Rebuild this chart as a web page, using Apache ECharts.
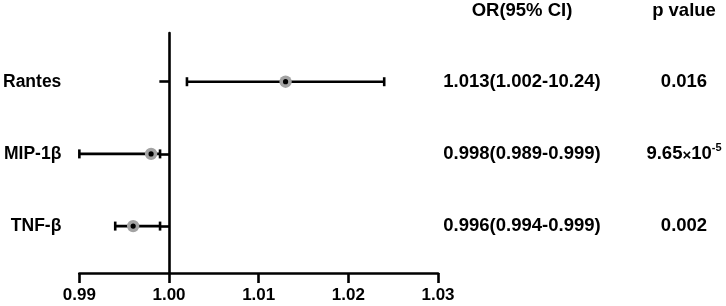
<!DOCTYPE html>
<html>
<head>
<meta charset="utf-8">
<script src="https://cdn.jsdelivr.net/npm/echarts@6/dist/echarts.min.js"></script>
<style>
  html, body { margin: 0; padding: 0; background: #fff; }
  #chart { width: 726px; height: 306px; }
</style>
</head>
<body>
<div id="chart"></div>
<script>
// forest plot: OR with 95% CI per cytokine, rows bottom -> top
const categories = ["TNF-β", "MIP-1β", "Rantes"];
const rowPos = [1, 2, 3];
const orValues = [0.996, 0.998, 1.013];
const ciLow = [0.994, 0.989, 1.002];
const ciHigh = [0.999, 0.999, 1.024];
const orLabels = ["0.996(0.994-0.999)", "0.998(0.989-0.999)", "1.013(1.002-10.24)"];
const pLabels = ["0.002", "9.65×10^-5", "0.016"];
const xTicks = [0.99, 1.00, 1.01, 1.02, 1.03];

const X_MIN = 0.99, X_MAX = 1.03;
const FONT = "'Liberation Sans', Arial, sans-serif";
const LW = 2.6;

const chart = echarts.init(document.getElementById("chart"));

const rowLabel = (list) => (v) => {
  const i = rowPos.indexOf(v);
  return i < 0 ? "" : list[i];
};

function renderBar(params, api) {
  const lo = api.coord([Math.max(api.value(1), X_MIN), api.value(3)]);
  const hi = api.coord([api.value(2), api.value(3)]);
  const mid = api.coord([api.value(0), api.value(3)]);
  const cap = 4.5;
  const line = (x1, y1, x2, y2) => ({
    type: "line",
    shape: { x1, y1, x2, y2 },
    style: { stroke: "#000", lineWidth: LW },
  });
  return {
    type: "group",
    children: [
      line(lo[0], lo[1], hi[0], hi[1]),
      line(lo[0], lo[1] - cap, lo[0], lo[1] + cap),
      line(hi[0], hi[1] - cap, hi[0], hi[1] + cap),
      { type: "circle", shape: { cx: mid[0], cy: mid[1], r: 6.2 }, style: { fill: "#a3a3a3" } },
      { type: "circle", shape: { cx: mid[0], cy: mid[1], r: 2.6 }, style: { fill: "#000" } },
    ],
  };
}

const textAxis = (name, labels, offset, rich) => ({
  type: "value",
  position: "right",
  offset,
  min: 0.35,
  max: 3.675,
  name,
  nameLocation: "end",
  nameGap: 13,
  nameTextStyle: { color: "#000", fontFamily: FONT, fontWeight: "bold", fontSize: 18.5 },
  axisLine: { show: false },
  axisTick: { show: false },
  splitLine: { show: false },
  axisLabel: {
    customValues: rowPos,
    formatter: rowLabel(labels),
    align: "center",
    margin: 0,
    color: "#000",
    fontFamily: FONT,
    fontWeight: "bold",
    fontSize: 18.5,
    rich,
  },
});

const sci = {
  x: { fontFamily: FONT, fontSize: 15, color: "#000", padding: [4, 0, 0, 0] },
  sup: { fontFamily: FONT, fontWeight: "bold", fontSize: 11, color: "#000", padding: [0, 0, 12, 0] },
};

chart.setOption({
  animation: false,
  grid: { left: 78, right: 288, top: 33, bottom: 33 },
  xAxis: {
    type: "value",
    min: X_MIN,
    max: X_MAX,
    interval: 0.01,
    axisLine: { lineStyle: { color: "#000", width: LW } },
    axisTick: { length: 10, lineStyle: { color: "#000", width: LW } },
    splitLine: { show: false },
    axisLabel: {
      customValues: xTicks,
      formatter: (v) => v.toFixed(2),
      margin: 14,
      color: "#000",
      fontFamily: FONT,
      fontWeight: "bold",
      fontSize: 17,
    },
  },
  yAxis: [
    {
      type: "value",
      min: 0.35,
      max: 3.675,
      offset: -90, // line sits at OR = 1.00
      axisLine: { show: true, lineStyle: { color: "#000", width: LW } },
      axisTick: { customValues: rowPos, length: 10, lineStyle: { color: "#000", width: LW } },
      splitLine: { show: false },
      axisLabel: {
        customValues: rowPos,
        formatter: rowLabel(categories),
        margin: 108,
        color: "#000",
        fontFamily: FONT,
        fontWeight: "bold",
        fontSize: 17.5,
      },
    },
    textAxis("OR(95% CI)", orLabels, 84),
    textAxis("p value", pLabels.map((s) => s.replace(/×10\^(.+)$/, "{x|×}10{sup|$1}")), 246, sci),
  ],
  series: [
    {
      type: "custom",
      renderItem: renderBar,
      encode: { x: [0, 1, 2], y: 3 },
      data: rowPos.map((p, i) => [orValues[i], ciLow[i], ciHigh[i], p]),
      z: 5,
    },
  ],
});
</script>
</body>
</html>
